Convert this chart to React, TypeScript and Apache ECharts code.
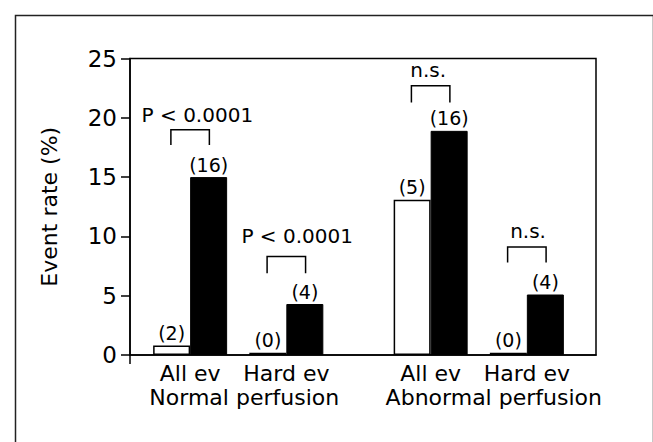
import React, { useEffect, useRef } from "react";
import * as echarts from "echarts";

const FONT = "DejaVu Sans";

const groupCenters = [1, 2.6, 5, 6.6];
const categoryLabels = ["All ev", "Hard ev", "All ev", "Hard ev"];
const groupLabelPositions = [1.9, 6.05];
const groupLabels = ["Normal perfusion", "Abnormal perfusion"];

const whiteValues = [0.8, 0.2, 13.1, 0.2];
const blackValues = [15.0, 4.3, 18.9, 5.1];
const whiteCounts = ["(2)", "(0)", "(5)", "(0)"];
const blackCounts = ["(16)", "(4)", "(16)", "(4)"];

const bracketTop = [19.0, 8.3, 22.7, 9.1];
const bracketBottom = [17.7, 6.9, 21.3, 7.8];
const bracketText = ["P < 0.0001", "P < 0.0001", "n.s.", "n.s."];
const bracketTextX = [1.12, 2.78, 4.96, 6.62];
const bracketTextY = [20.2, 10.0, 24.0, 10.45];

const yTicks = [0, 5, 10, 15, 20, 25];

const near = (v: number, arr: number[]) => arr.findIndex((a) => Math.abs(a - v) < 1e-6);

export default function App() {
  const ref = useRef<HTMLDivElement>(null);
  useEffect(() => {
    if (!ref.current) return;
    const chart = echarts.init(ref.current, null, { renderer: "svg" });
    const X_MAX = 7.75;
    const frame = {
      id: "frame",
      type: "rect",
      left: 13,
      top: 13,
      shape: { x: 0, y: 0, width: 638, height: 450 },
      style: { fill: "none", stroke: "#222", lineWidth: 1.5 },
      silent: true,
    };
    chart.setOption({
      animation: false,
      backgroundColor: "#fff",
      textStyle: { fontFamily: FONT, color: "#000" },
      grid: {
        left: 130,
        right: 57,
        top: 58.5,
        bottom: 87,
        show: true,
        borderColor: "#000",
        borderWidth: 1.5,
      },
      xAxis: [
        {
          type: "value",
          min: 0,
          max: X_MAX,
          interval: 0.2,
          axisLine: { show: true, lineStyle: { color: "#000", width: 1.5 } },
          axisTick: { show: false },
          splitLine: { show: false },
          axisLabel: {
            margin: 7,
            fontSize: 22,
            fontFamily: FONT,
            color: "#000",
            formatter: (v: number) => {
              const i = near(v, groupCenters);
              return i >= 0 ? categoryLabels[i] : "";
            },
          },
        },
        {
          type: "value",
          position: "bottom",
          min: 0,
          max: X_MAX,
          interval: 0.05,
          axisLine: { show: false },
          axisTick: { show: false },
          splitLine: { show: false },
          axisLabel: {
            margin: 31,
            fontSize: 22,
            fontFamily: FONT,
            color: "#000",
            formatter: (v: number) => {
              const i = near(v, groupLabelPositions);
              return i >= 0 ? groupLabels[i] : "";
            },
          },
        },
      ],
      yAxis: {
        type: "value",
        min: 0,
        max: 25,
        interval: 5,
        name: "Event rate (%)",
        nameLocation: "middle",
        nameGap: 70,
        nameTextStyle: { fontSize: 22, fontFamily: FONT, color: "#000" },
        axisLine: { show: true, lineStyle: { color: "#000", width: 1.5 } },
        axisTick: { show: true, length: 9, lineStyle: { color: "#000", width: 1.5 } },
        splitLine: { show: false },
        axisLabel: {
          margin: 13,
          fontSize: 23,
          fontFamily: FONT,
          color: "#000",
          customValues: yTicks,
        },
      },
      series: [
        {
          type: "bar",
          name: "white",
          xAxisIndex: 0,
          barWidth: 37,
          barGap: "0%",
          data: groupCenters.map((c, i) => [c, whiteValues[i]]),
          itemStyle: { color: "#fff", borderColor: "#000", borderWidth: 1.5 },
          label: {
            show: true,
            position: "top",
            distance: 3,
            fontSize: 19,
            fontFamily: FONT,
            color: "#000",
            formatter: (p: any) => whiteCounts[p.dataIndex],
          },
        },
        {
          type: "bar",
          name: "black",
          xAxisIndex: 0,
          barWidth: 37,
          barGap: "0%",
          data: groupCenters.map((c, i) => [c, blackValues[i]]),
          itemStyle: { color: "#000", borderColor: "#000", borderWidth: 1 },
          label: {
            show: true,
            position: "top",
            distance: 3,
            fontSize: 19,
            fontFamily: FONT,
            color: "#000",
            formatter: (p: any) => blackCounts[p.dataIndex],
          },
        },
        {
          type: "custom",
          xAxisIndex: 0,
          data: groupCenters.map((c, i) => [c, bracketTop[i], bracketBottom[i], bracketTextX[i], bracketTextY[i]]),
          renderItem: (params: any, api: any) => {
            const c = api.value(0);
            const top = api.value(1);
            const bot = api.value(2);
            const h = 0.32;
            const p1 = api.coord([c - h, bot]);
            const p2 = api.coord([c - h, top]);
            const p3 = api.coord([c + h, top]);
            const p4 = api.coord([c + h, bot]);
            const t = api.coord([api.value(3), api.value(4)]);
            return {
              type: "group",
              children: [
                {
                  type: "polyline",
                  shape: { points: [p1, p2, p3, p4] },
                  style: { stroke: "#000", lineWidth: 1.5, fill: null },
                },
                {
                  type: "text",
                  x: t[0],
                  y: t[1],
                  style: {
                    text: bracketText[params.dataIndex],
                    fontSize: 20,
                    fontFamily: FONT,
                    fill: "#000",
                    align: "center",
                    verticalAlign: "middle",
                  },
                },
              ],
            };
          },
        },
      ],
      graphic: [frame],
    });
    const origin = chart.convertToPixel({ gridIndex: 0 }, [0, 0]) as number[];
    if (origin) {
      chart.setOption({
        graphic: [
          frame,
          {
            id: "yext",
            type: "line",
            shape: { x1: origin[0], y1: origin[1], x2: origin[0], y2: origin[1] + 9 },
            style: { stroke: "#000", lineWidth: 1.5 },
            silent: true,
          },
        ],
      });
    }
    return () => chart.dispose();
  }, []);
  return (
    <div
      ref={ref}
      style={{ position: "fixed", left: 0, top: 0, width: 653, height: 442, background: "#fff" }}
    />
  );
}
